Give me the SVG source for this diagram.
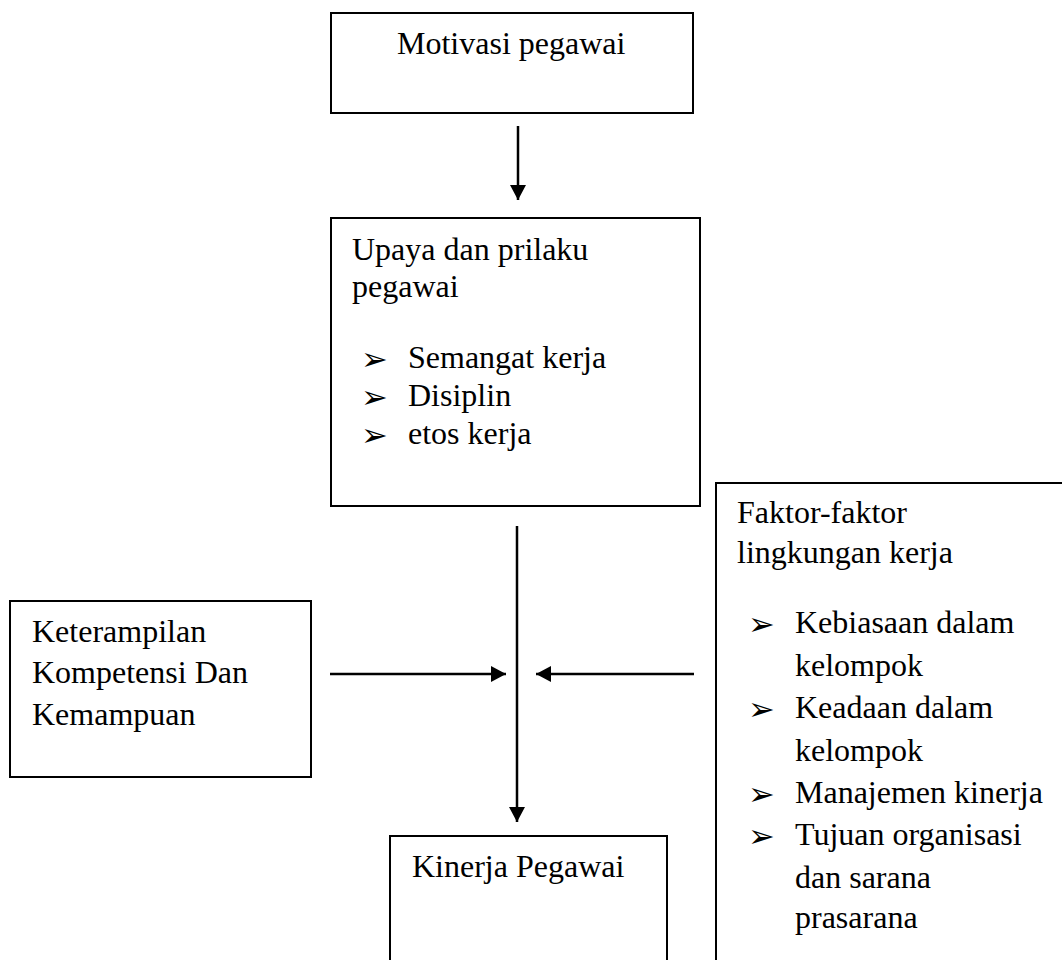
<svg xmlns="http://www.w3.org/2000/svg" width="1062" height="960" viewBox="0 0 1062 960">
<style>
.box{fill:#fff;stroke:#000;stroke-width:2}
.t{font-family:"Liberation Serif","Times New Roman",serif;font-size:32px;fill:#000}
.b{font-family:"DejaVu Sans",sans-serif;font-size:32px;fill:#000}
.c{stroke:#000;stroke-width:2.5;fill:none}
</style>
<defs>
<marker id="ah" markerUnits="userSpaceOnUse" markerWidth="16" markerHeight="18" refX="15" refY="8" orient="auto">
<path d="M0,0 L15,8 L0,16 Z" fill="#000"/>
</marker>
</defs>
<rect width="1062" height="960" fill="#fff"/>
<g id="motivasi">
<rect class="box" x="331" y="13" width="362" height="100"/>
<text class="t" x="397" y="54">Motivasi pegawai</text>
</g>
<g id="upaya">
<rect class="box" x="331" y="218" width="369" height="288"/>
<text class="t" x="352" y="260">Upaya dan prilaku</text>
<text class="t" x="352" y="297">pegawai</text>
<text class="b" x="361" y="370">➢</text>
<text class="t" x="408" y="368">Semangat kerja</text>
<text class="b" x="361" y="408">➢</text>
<text class="t" x="408" y="406">Disiplin</text>
<text class="b" x="361" y="446">➢</text>
<text class="t" x="408" y="444">etos kerja</text>
</g>
<g id="keterampilan">
<rect class="box" x="10" y="601" width="301" height="176"/>
<text class="t" x="32" y="642">Keterampilan</text>
<text class="t" x="32" y="683">Kompetensi Dan</text>
<text class="t" x="32" y="725">Kemampuan</text>
</g>
<g id="faktor">
<rect class="box" x="716" y="483" width="360" height="490"/>
<text class="t" x="737" y="523">Faktor-faktor</text>
<text class="t" x="737" y="563">lingkungan kerja</text>
<text class="b" x="748" y="635">➢</text>
<text class="t" x="795" y="633">Kebiasaan dalam</text>
<text class="t" x="795" y="676">kelompok</text>
<text class="b" x="748" y="720">➢</text>
<text class="t" x="795" y="718">Keadaan dalam</text>
<text class="t" x="795" y="761">kelompok</text>
<text class="b" x="748" y="805">➢</text>
<text class="t" x="795" y="803">Manajemen kinerja</text>
<text class="b" x="748" y="847">➢</text>
<text class="t" x="795" y="845">Tujuan organisasi</text>
<text class="t" x="795" y="888">dan sarana</text>
<text class="t" x="795" y="928">prasarana</text>
</g>
<g id="kinerja">
<rect class="box" x="390" y="836" width="277" height="140"/>
<text class="t" x="412" y="877">Kinerja Pegawai</text>
</g>
<g id="connectors">
<line class="c" x1="518" y1="126" x2="518" y2="200" marker-end="url(#ah)"/>
<line class="c" x1="517" y1="526" x2="517" y2="822" marker-end="url(#ah)"/>
<line class="c" x1="330" y1="674" x2="506" y2="674" marker-end="url(#ah)"/>
<line class="c" x1="694" y1="674" x2="536" y2="674" marker-end="url(#ah)"/>
</g>
</svg>
